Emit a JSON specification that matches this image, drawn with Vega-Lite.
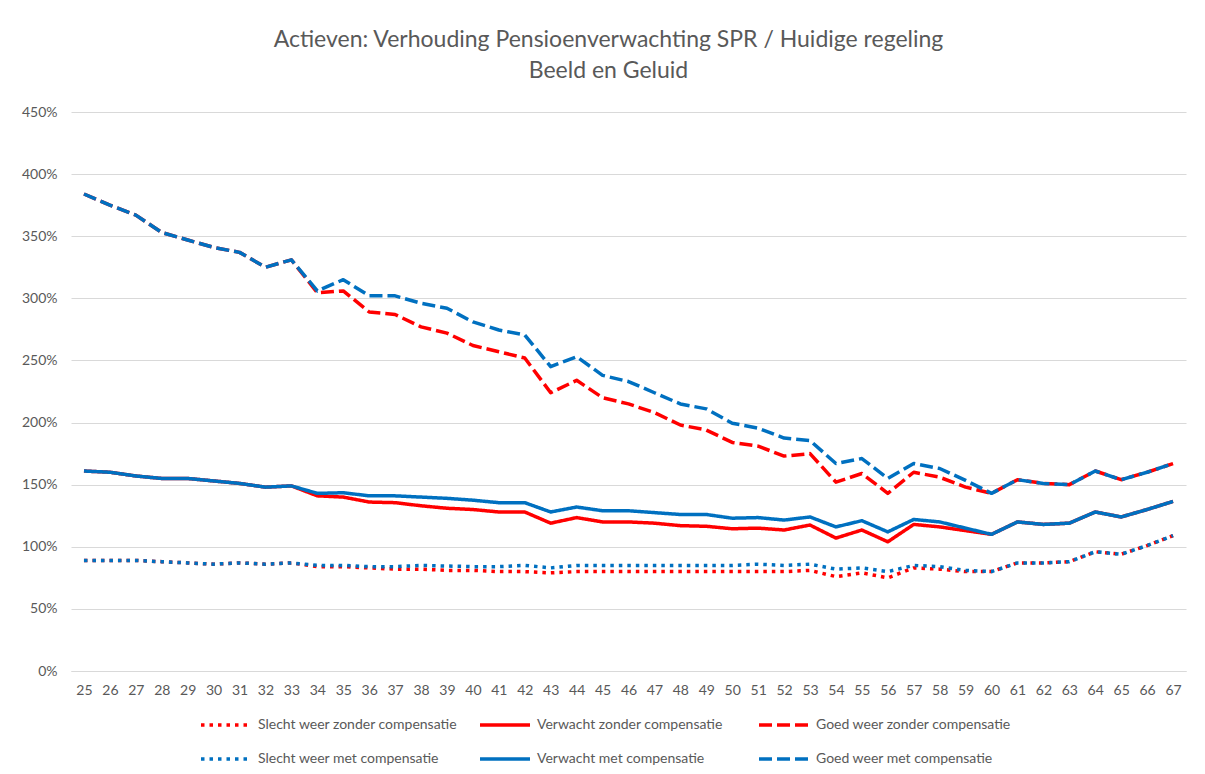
{
  "$schema": "https://vega.github.io/schema/vega-lite/v6.json",
  "autosize": {"type": "none"},
  "width": 1115,
  "height": 559,
  "padding": {"left": 71, "top": 112, "right": 19, "bottom": 103},
  "background": "white",
  "title": {
    "text": ["Actieven: Verhouding Pensioenverwachting SPR / Huidige regeling", "Beeld en Geluid"],
    "fontSize": 23,
    "fontWeight": "normal",
    "color": "#595959",
    "font": "Lato",
    "lineHeight": 31,
    "anchor": "middle",
    "dx": -20,
    "offset": 22
  },
  "config": {
    "view": {"stroke": null},
    "font": "Lato",
    "axis": {"labelColor": "#595959", "labelFontSize": 14, "labelFont": "Lato"},
    "legend": {"labelColor": "#595959", "labelFontSize": 14, "labelFont": "Lato"}
  },
  "data": {"values": [
    {"leeftijd":25,"serie":"Slecht weer zonder compensatie","waarde":0.89},
    {"leeftijd":26,"serie":"Slecht weer zonder compensatie","waarde":0.89},
    {"leeftijd":27,"serie":"Slecht weer zonder compensatie","waarde":0.89},
    {"leeftijd":28,"serie":"Slecht weer zonder compensatie","waarde":0.88},
    {"leeftijd":29,"serie":"Slecht weer zonder compensatie","waarde":0.87},
    {"leeftijd":30,"serie":"Slecht weer zonder compensatie","waarde":0.86},
    {"leeftijd":31,"serie":"Slecht weer zonder compensatie","waarde":0.87},
    {"leeftijd":32,"serie":"Slecht weer zonder compensatie","waarde":0.86},
    {"leeftijd":33,"serie":"Slecht weer zonder compensatie","waarde":0.87},
    {"leeftijd":34,"serie":"Slecht weer zonder compensatie","waarde":0.84},
    {"leeftijd":35,"serie":"Slecht weer zonder compensatie","waarde":0.84},
    {"leeftijd":36,"serie":"Slecht weer zonder compensatie","waarde":0.83},
    {"leeftijd":37,"serie":"Slecht weer zonder compensatie","waarde":0.82},
    {"leeftijd":38,"serie":"Slecht weer zonder compensatie","waarde":0.82},
    {"leeftijd":39,"serie":"Slecht weer zonder compensatie","waarde":0.81},
    {"leeftijd":40,"serie":"Slecht weer zonder compensatie","waarde":0.81},
    {"leeftijd":41,"serie":"Slecht weer zonder compensatie","waarde":0.80},
    {"leeftijd":42,"serie":"Slecht weer zonder compensatie","waarde":0.80},
    {"leeftijd":43,"serie":"Slecht weer zonder compensatie","waarde":0.79},
    {"leeftijd":44,"serie":"Slecht weer zonder compensatie","waarde":0.80},
    {"leeftijd":45,"serie":"Slecht weer zonder compensatie","waarde":0.80},
    {"leeftijd":46,"serie":"Slecht weer zonder compensatie","waarde":0.80},
    {"leeftijd":47,"serie":"Slecht weer zonder compensatie","waarde":0.80},
    {"leeftijd":48,"serie":"Slecht weer zonder compensatie","waarde":0.80},
    {"leeftijd":49,"serie":"Slecht weer zonder compensatie","waarde":0.80},
    {"leeftijd":50,"serie":"Slecht weer zonder compensatie","waarde":0.80},
    {"leeftijd":51,"serie":"Slecht weer zonder compensatie","waarde":0.80},
    {"leeftijd":52,"serie":"Slecht weer zonder compensatie","waarde":0.80},
    {"leeftijd":53,"serie":"Slecht weer zonder compensatie","waarde":0.81},
    {"leeftijd":54,"serie":"Slecht weer zonder compensatie","waarde":0.76},
    {"leeftijd":55,"serie":"Slecht weer zonder compensatie","waarde":0.79},
    {"leeftijd":56,"serie":"Slecht weer zonder compensatie","waarde":0.75},
    {"leeftijd":57,"serie":"Slecht weer zonder compensatie","waarde":0.83},
    {"leeftijd":58,"serie":"Slecht weer zonder compensatie","waarde":0.82},
    {"leeftijd":59,"serie":"Slecht weer zonder compensatie","waarde":0.80},
    {"leeftijd":60,"serie":"Slecht weer zonder compensatie","waarde":0.80},
    {"leeftijd":61,"serie":"Slecht weer zonder compensatie","waarde":0.87},
    {"leeftijd":62,"serie":"Slecht weer zonder compensatie","waarde":0.87},
    {"leeftijd":63,"serie":"Slecht weer zonder compensatie","waarde":0.88},
    {"leeftijd":64,"serie":"Slecht weer zonder compensatie","waarde":0.96},
    {"leeftijd":65,"serie":"Slecht weer zonder compensatie","waarde":0.94},
    {"leeftijd":66,"serie":"Slecht weer zonder compensatie","waarde":1.01},
    {"leeftijd":67,"serie":"Slecht weer zonder compensatie","waarde":1.09},

    {"leeftijd":25,"serie":"Verwacht zonder compensatie","waarde":1.61},
    {"leeftijd":26,"serie":"Verwacht zonder compensatie","waarde":1.60},
    {"leeftijd":27,"serie":"Verwacht zonder compensatie","waarde":1.57},
    {"leeftijd":28,"serie":"Verwacht zonder compensatie","waarde":1.55},
    {"leeftijd":29,"serie":"Verwacht zonder compensatie","waarde":1.55},
    {"leeftijd":30,"serie":"Verwacht zonder compensatie","waarde":1.53},
    {"leeftijd":31,"serie":"Verwacht zonder compensatie","waarde":1.51},
    {"leeftijd":32,"serie":"Verwacht zonder compensatie","waarde":1.48},
    {"leeftijd":33,"serie":"Verwacht zonder compensatie","waarde":1.49},
    {"leeftijd":34,"serie":"Verwacht zonder compensatie","waarde":1.41},
    {"leeftijd":35,"serie":"Verwacht zonder compensatie","waarde":1.40},
    {"leeftijd":36,"serie":"Verwacht zonder compensatie","waarde":1.36},
    {"leeftijd":37,"serie":"Verwacht zonder compensatie","waarde":1.355},
    {"leeftijd":38,"serie":"Verwacht zonder compensatie","waarde":1.33},
    {"leeftijd":39,"serie":"Verwacht zonder compensatie","waarde":1.31},
    {"leeftijd":40,"serie":"Verwacht zonder compensatie","waarde":1.30},
    {"leeftijd":41,"serie":"Verwacht zonder compensatie","waarde":1.28},
    {"leeftijd":42,"serie":"Verwacht zonder compensatie","waarde":1.28},
    {"leeftijd":43,"serie":"Verwacht zonder compensatie","waarde":1.19},
    {"leeftijd":44,"serie":"Verwacht zonder compensatie","waarde":1.235},
    {"leeftijd":45,"serie":"Verwacht zonder compensatie","waarde":1.20},
    {"leeftijd":46,"serie":"Verwacht zonder compensatie","waarde":1.20},
    {"leeftijd":47,"serie":"Verwacht zonder compensatie","waarde":1.19},
    {"leeftijd":48,"serie":"Verwacht zonder compensatie","waarde":1.17},
    {"leeftijd":49,"serie":"Verwacht zonder compensatie","waarde":1.165},
    {"leeftijd":50,"serie":"Verwacht zonder compensatie","waarde":1.145},
    {"leeftijd":51,"serie":"Verwacht zonder compensatie","waarde":1.15},
    {"leeftijd":52,"serie":"Verwacht zonder compensatie","waarde":1.135},
    {"leeftijd":53,"serie":"Verwacht zonder compensatie","waarde":1.175},
    {"leeftijd":54,"serie":"Verwacht zonder compensatie","waarde":1.07},
    {"leeftijd":55,"serie":"Verwacht zonder compensatie","waarde":1.135},
    {"leeftijd":56,"serie":"Verwacht zonder compensatie","waarde":1.04},
    {"leeftijd":57,"serie":"Verwacht zonder compensatie","waarde":1.18},
    {"leeftijd":58,"serie":"Verwacht zonder compensatie","waarde":1.16},
    {"leeftijd":59,"serie":"Verwacht zonder compensatie","waarde":1.13},
    {"leeftijd":60,"serie":"Verwacht zonder compensatie","waarde":1.10},
    {"leeftijd":61,"serie":"Verwacht zonder compensatie","waarde":1.20},
    {"leeftijd":62,"serie":"Verwacht zonder compensatie","waarde":1.18},
    {"leeftijd":63,"serie":"Verwacht zonder compensatie","waarde":1.19},
    {"leeftijd":64,"serie":"Verwacht zonder compensatie","waarde":1.28},
    {"leeftijd":65,"serie":"Verwacht zonder compensatie","waarde":1.24},
    {"leeftijd":66,"serie":"Verwacht zonder compensatie","waarde":1.30},
    {"leeftijd":67,"serie":"Verwacht zonder compensatie","waarde":1.365},

    {"leeftijd":25,"serie":"Goed weer zonder compensatie","waarde":3.84},
    {"leeftijd":26,"serie":"Goed weer zonder compensatie","waarde":3.75},
    {"leeftijd":27,"serie":"Goed weer zonder compensatie","waarde":3.67},
    {"leeftijd":28,"serie":"Goed weer zonder compensatie","waarde":3.53},
    {"leeftijd":29,"serie":"Goed weer zonder compensatie","waarde":3.47},
    {"leeftijd":30,"serie":"Goed weer zonder compensatie","waarde":3.41},
    {"leeftijd":31,"serie":"Goed weer zonder compensatie","waarde":3.37},
    {"leeftijd":32,"serie":"Goed weer zonder compensatie","waarde":3.25},
    {"leeftijd":33,"serie":"Goed weer zonder compensatie","waarde":3.31},
    {"leeftijd":34,"serie":"Goed weer zonder compensatie","waarde":3.045},
    {"leeftijd":35,"serie":"Goed weer zonder compensatie","waarde":3.06},
    {"leeftijd":36,"serie":"Goed weer zonder compensatie","waarde":2.89},
    {"leeftijd":37,"serie":"Goed weer zonder compensatie","waarde":2.87},
    {"leeftijd":38,"serie":"Goed weer zonder compensatie","waarde":2.77},
    {"leeftijd":39,"serie":"Goed weer zonder compensatie","waarde":2.72},
    {"leeftijd":40,"serie":"Goed weer zonder compensatie","waarde":2.62},
    {"leeftijd":41,"serie":"Goed weer zonder compensatie","waarde":2.57},
    {"leeftijd":42,"serie":"Goed weer zonder compensatie","waarde":2.52},
    {"leeftijd":43,"serie":"Goed weer zonder compensatie","waarde":2.24},
    {"leeftijd":44,"serie":"Goed weer zonder compensatie","waarde":2.34},
    {"leeftijd":45,"serie":"Goed weer zonder compensatie","waarde":2.20},
    {"leeftijd":46,"serie":"Goed weer zonder compensatie","waarde":2.15},
    {"leeftijd":47,"serie":"Goed weer zonder compensatie","waarde":2.08},
    {"leeftijd":48,"serie":"Goed weer zonder compensatie","waarde":1.98},
    {"leeftijd":49,"serie":"Goed weer zonder compensatie","waarde":1.94},
    {"leeftijd":50,"serie":"Goed weer zonder compensatie","waarde":1.84},
    {"leeftijd":51,"serie":"Goed weer zonder compensatie","waarde":1.81},
    {"leeftijd":52,"serie":"Goed weer zonder compensatie","waarde":1.73},
    {"leeftijd":53,"serie":"Goed weer zonder compensatie","waarde":1.75},
    {"leeftijd":54,"serie":"Goed weer zonder compensatie","waarde":1.52},
    {"leeftijd":55,"serie":"Goed weer zonder compensatie","waarde":1.59},
    {"leeftijd":56,"serie":"Goed weer zonder compensatie","waarde":1.43},
    {"leeftijd":57,"serie":"Goed weer zonder compensatie","waarde":1.60},
    {"leeftijd":58,"serie":"Goed weer zonder compensatie","waarde":1.56},
    {"leeftijd":59,"serie":"Goed weer zonder compensatie","waarde":1.48},
    {"leeftijd":60,"serie":"Goed weer zonder compensatie","waarde":1.43},
    {"leeftijd":61,"serie":"Goed weer zonder compensatie","waarde":1.54},
    {"leeftijd":62,"serie":"Goed weer zonder compensatie","waarde":1.51},
    {"leeftijd":63,"serie":"Goed weer zonder compensatie","waarde":1.50},
    {"leeftijd":64,"serie":"Goed weer zonder compensatie","waarde":1.61},
    {"leeftijd":65,"serie":"Goed weer zonder compensatie","waarde":1.54},
    {"leeftijd":66,"serie":"Goed weer zonder compensatie","waarde":1.60},
    {"leeftijd":67,"serie":"Goed weer zonder compensatie","waarde":1.67},

    {"leeftijd":25,"serie":"Slecht weer met compensatie","waarde":0.89},
    {"leeftijd":26,"serie":"Slecht weer met compensatie","waarde":0.89},
    {"leeftijd":27,"serie":"Slecht weer met compensatie","waarde":0.89},
    {"leeftijd":28,"serie":"Slecht weer met compensatie","waarde":0.88},
    {"leeftijd":29,"serie":"Slecht weer met compensatie","waarde":0.87},
    {"leeftijd":30,"serie":"Slecht weer met compensatie","waarde":0.86},
    {"leeftijd":31,"serie":"Slecht weer met compensatie","waarde":0.87},
    {"leeftijd":32,"serie":"Slecht weer met compensatie","waarde":0.86},
    {"leeftijd":33,"serie":"Slecht weer met compensatie","waarde":0.87},
    {"leeftijd":34,"serie":"Slecht weer met compensatie","waarde":0.85},
    {"leeftijd":35,"serie":"Slecht weer met compensatie","waarde":0.85},
    {"leeftijd":36,"serie":"Slecht weer met compensatie","waarde":0.84},
    {"leeftijd":37,"serie":"Slecht weer met compensatie","waarde":0.84},
    {"leeftijd":38,"serie":"Slecht weer met compensatie","waarde":0.85},
    {"leeftijd":39,"serie":"Slecht weer met compensatie","waarde":0.845},
    {"leeftijd":40,"serie":"Slecht weer met compensatie","waarde":0.84},
    {"leeftijd":41,"serie":"Slecht weer met compensatie","waarde":0.84},
    {"leeftijd":42,"serie":"Slecht weer met compensatie","waarde":0.85},
    {"leeftijd":43,"serie":"Slecht weer met compensatie","waarde":0.83},
    {"leeftijd":44,"serie":"Slecht weer met compensatie","waarde":0.85},
    {"leeftijd":45,"serie":"Slecht weer met compensatie","waarde":0.85},
    {"leeftijd":46,"serie":"Slecht weer met compensatie","waarde":0.85},
    {"leeftijd":47,"serie":"Slecht weer met compensatie","waarde":0.85},
    {"leeftijd":48,"serie":"Slecht weer met compensatie","waarde":0.85},
    {"leeftijd":49,"serie":"Slecht weer met compensatie","waarde":0.85},
    {"leeftijd":50,"serie":"Slecht weer met compensatie","waarde":0.85},
    {"leeftijd":51,"serie":"Slecht weer met compensatie","waarde":0.86},
    {"leeftijd":52,"serie":"Slecht weer met compensatie","waarde":0.85},
    {"leeftijd":53,"serie":"Slecht weer met compensatie","waarde":0.86},
    {"leeftijd":54,"serie":"Slecht weer met compensatie","waarde":0.82},
    {"leeftijd":55,"serie":"Slecht weer met compensatie","waarde":0.83},
    {"leeftijd":56,"serie":"Slecht weer met compensatie","waarde":0.80},
    {"leeftijd":57,"serie":"Slecht weer met compensatie","waarde":0.85},
    {"leeftijd":58,"serie":"Slecht weer met compensatie","waarde":0.84},
    {"leeftijd":59,"serie":"Slecht weer met compensatie","waarde":0.81},
    {"leeftijd":60,"serie":"Slecht weer met compensatie","waarde":0.80},
    {"leeftijd":61,"serie":"Slecht weer met compensatie","waarde":0.87},
    {"leeftijd":62,"serie":"Slecht weer met compensatie","waarde":0.87},
    {"leeftijd":63,"serie":"Slecht weer met compensatie","waarde":0.88},
    {"leeftijd":64,"serie":"Slecht weer met compensatie","waarde":0.96},
    {"leeftijd":65,"serie":"Slecht weer met compensatie","waarde":0.94},
    {"leeftijd":66,"serie":"Slecht weer met compensatie","waarde":1.01},
    {"leeftijd":67,"serie":"Slecht weer met compensatie","waarde":1.09},

    {"leeftijd":25,"serie":"Verwacht met compensatie","waarde":1.61},
    {"leeftijd":26,"serie":"Verwacht met compensatie","waarde":1.60},
    {"leeftijd":27,"serie":"Verwacht met compensatie","waarde":1.57},
    {"leeftijd":28,"serie":"Verwacht met compensatie","waarde":1.55},
    {"leeftijd":29,"serie":"Verwacht met compensatie","waarde":1.55},
    {"leeftijd":30,"serie":"Verwacht met compensatie","waarde":1.53},
    {"leeftijd":31,"serie":"Verwacht met compensatie","waarde":1.51},
    {"leeftijd":32,"serie":"Verwacht met compensatie","waarde":1.48},
    {"leeftijd":33,"serie":"Verwacht met compensatie","waarde":1.49},
    {"leeftijd":34,"serie":"Verwacht met compensatie","waarde":1.43},
    {"leeftijd":35,"serie":"Verwacht met compensatie","waarde":1.435},
    {"leeftijd":36,"serie":"Verwacht met compensatie","waarde":1.41},
    {"leeftijd":37,"serie":"Verwacht met compensatie","waarde":1.41},
    {"leeftijd":38,"serie":"Verwacht met compensatie","waarde":1.40},
    {"leeftijd":39,"serie":"Verwacht met compensatie","waarde":1.39},
    {"leeftijd":40,"serie":"Verwacht met compensatie","waarde":1.375},
    {"leeftijd":41,"serie":"Verwacht met compensatie","waarde":1.355},
    {"leeftijd":42,"serie":"Verwacht met compensatie","waarde":1.355},
    {"leeftijd":43,"serie":"Verwacht met compensatie","waarde":1.28},
    {"leeftijd":44,"serie":"Verwacht met compensatie","waarde":1.32},
    {"leeftijd":45,"serie":"Verwacht met compensatie","waarde":1.29},
    {"leeftijd":46,"serie":"Verwacht met compensatie","waarde":1.29},
    {"leeftijd":47,"serie":"Verwacht met compensatie","waarde":1.275},
    {"leeftijd":48,"serie":"Verwacht met compensatie","waarde":1.26},
    {"leeftijd":49,"serie":"Verwacht met compensatie","waarde":1.26},
    {"leeftijd":50,"serie":"Verwacht met compensatie","waarde":1.23},
    {"leeftijd":51,"serie":"Verwacht met compensatie","waarde":1.235},
    {"leeftijd":52,"serie":"Verwacht met compensatie","waarde":1.215},
    {"leeftijd":53,"serie":"Verwacht met compensatie","waarde":1.24},
    {"leeftijd":54,"serie":"Verwacht met compensatie","waarde":1.16},
    {"leeftijd":55,"serie":"Verwacht met compensatie","waarde":1.21},
    {"leeftijd":56,"serie":"Verwacht met compensatie","waarde":1.12},
    {"leeftijd":57,"serie":"Verwacht met compensatie","waarde":1.22},
    {"leeftijd":58,"serie":"Verwacht met compensatie","waarde":1.20},
    {"leeftijd":59,"serie":"Verwacht met compensatie","waarde":1.15},
    {"leeftijd":60,"serie":"Verwacht met compensatie","waarde":1.10},
    {"leeftijd":61,"serie":"Verwacht met compensatie","waarde":1.20},
    {"leeftijd":62,"serie":"Verwacht met compensatie","waarde":1.18},
    {"leeftijd":63,"serie":"Verwacht met compensatie","waarde":1.19},
    {"leeftijd":64,"serie":"Verwacht met compensatie","waarde":1.28},
    {"leeftijd":65,"serie":"Verwacht met compensatie","waarde":1.24},
    {"leeftijd":66,"serie":"Verwacht met compensatie","waarde":1.30},
    {"leeftijd":67,"serie":"Verwacht met compensatie","waarde":1.365},

    {"leeftijd":25,"serie":"Goed weer met compensatie","waarde":3.84},
    {"leeftijd":26,"serie":"Goed weer met compensatie","waarde":3.75},
    {"leeftijd":27,"serie":"Goed weer met compensatie","waarde":3.67},
    {"leeftijd":28,"serie":"Goed weer met compensatie","waarde":3.53},
    {"leeftijd":29,"serie":"Goed weer met compensatie","waarde":3.47},
    {"leeftijd":30,"serie":"Goed weer met compensatie","waarde":3.41},
    {"leeftijd":31,"serie":"Goed weer met compensatie","waarde":3.37},
    {"leeftijd":32,"serie":"Goed weer met compensatie","waarde":3.25},
    {"leeftijd":33,"serie":"Goed weer met compensatie","waarde":3.31},
    {"leeftijd":34,"serie":"Goed weer met compensatie","waarde":3.06},
    {"leeftijd":35,"serie":"Goed weer met compensatie","waarde":3.15},
    {"leeftijd":36,"serie":"Goed weer met compensatie","waarde":3.02},
    {"leeftijd":37,"serie":"Goed weer met compensatie","waarde":3.02},
    {"leeftijd":38,"serie":"Goed weer met compensatie","waarde":2.96},
    {"leeftijd":39,"serie":"Goed weer met compensatie","waarde":2.92},
    {"leeftijd":40,"serie":"Goed weer met compensatie","waarde":2.81},
    {"leeftijd":41,"serie":"Goed weer met compensatie","waarde":2.745},
    {"leeftijd":42,"serie":"Goed weer met compensatie","waarde":2.705},
    {"leeftijd":43,"serie":"Goed weer met compensatie","waarde":2.45},
    {"leeftijd":44,"serie":"Goed weer met compensatie","waarde":2.53},
    {"leeftijd":45,"serie":"Goed weer met compensatie","waarde":2.38},
    {"leeftijd":46,"serie":"Goed weer met compensatie","waarde":2.33},
    {"leeftijd":47,"serie":"Goed weer met compensatie","waarde":2.24},
    {"leeftijd":48,"serie":"Goed weer met compensatie","waarde":2.15},
    {"leeftijd":49,"serie":"Goed weer met compensatie","waarde":2.11},
    {"leeftijd":50,"serie":"Goed weer met compensatie","waarde":1.995},
    {"leeftijd":51,"serie":"Goed weer met compensatie","waarde":1.955},
    {"leeftijd":52,"serie":"Goed weer met compensatie","waarde":1.875},
    {"leeftijd":53,"serie":"Goed weer met compensatie","waarde":1.855},
    {"leeftijd":54,"serie":"Goed weer met compensatie","waarde":1.67},
    {"leeftijd":55,"serie":"Goed weer met compensatie","waarde":1.71},
    {"leeftijd":56,"serie":"Goed weer met compensatie","waarde":1.55},
    {"leeftijd":57,"serie":"Goed weer met compensatie","waarde":1.67},
    {"leeftijd":58,"serie":"Goed weer met compensatie","waarde":1.63},
    {"leeftijd":59,"serie":"Goed weer met compensatie","waarde":1.535},
    {"leeftijd":60,"serie":"Goed weer met compensatie","waarde":1.43},
    {"leeftijd":61,"serie":"Goed weer met compensatie","waarde":1.54},
    {"leeftijd":62,"serie":"Goed weer met compensatie","waarde":1.51},
    {"leeftijd":63,"serie":"Goed weer met compensatie","waarde":1.50},
    {"leeftijd":64,"serie":"Goed weer met compensatie","waarde":1.61},
    {"leeftijd":65,"serie":"Goed weer met compensatie","waarde":1.54},
    {"leeftijd":66,"serie":"Goed weer met compensatie","waarde":1.60},
    {"leeftijd":67,"serie":"Goed weer met compensatie","waarde":1.67}
  ]},
  "mark": {"type": "line", "strokeWidth": 3.5, "strokeCap": "butt", "strokeJoin": "round"},
  "encoding": {
    "x": {
      "field": "leeftijd",
      "type": "ordinal",
      "scale": {"type": "point", "padding": 0.5},
      "axis": {
        "title": null,
        "labelAngle": 0,
        "ticks": false,
        "domain": true,
        "domainColor": "#D9D9D9",
        "domainWidth": 1,
        "grid": false,
        "labelPadding": 12
      }
    },
    "y": {
      "field": "waarde",
      "type": "quantitative",
      "scale": {"domain": [0, 4.5], "nice": false},
      "axis": {
        "title": null,
        "values": [0, 0.5, 1, 1.5, 2, 2.5, 3, 3.5, 4, 4.5],
        "format": ".0%",
        "grid": true,
        "gridColor": "#D9D9D9",
        "gridWidth": 1,
        "domain": false,
        "ticks": false,
        "labelPadding": 14
      }
    },
    "color": {
      "field": "serie",
      "type": "nominal",
      "scale": {
        "domain": ["Slecht weer zonder compensatie", "Verwacht zonder compensatie", "Goed weer zonder compensatie", "Slecht weer met compensatie", "Verwacht met compensatie", "Goed weer met compensatie"],
        "range": ["#FF0000", "#FF0000", "#FF0000", "#0070C0", "#0070C0", "#0070C0"]
      },
      "legend": {
        "title": null,
        "orient": "none",
        "legendX": 128,
        "legendY": 586,
        "columns": 3,
        "direction": "horizontal",
        "gridAlign": "all",
        "columnPadding": 15,
        "rowPadding": -20,
        "symbolType": "stroke",
        "symbolSize": 2500,
        "symbolStrokeWidth": 3.5,
        "labelOffset": 5,
        "padding": 0,
        "labelLimit": 400
      }
    },
    "strokeDash": {
      "field": "serie",
      "type": "nominal",
      "scale": {
        "domain": ["Slecht weer zonder compensatie", "Verwacht zonder compensatie", "Goed weer zonder compensatie", "Slecht weer met compensatie", "Verwacht met compensatie", "Goed weer met compensatie"],
        "range": [[3.5, 5], [1, 0], [13, 5], [3.5, 5], [1, 0], [13, 5]]
      }
    }
  }
}
